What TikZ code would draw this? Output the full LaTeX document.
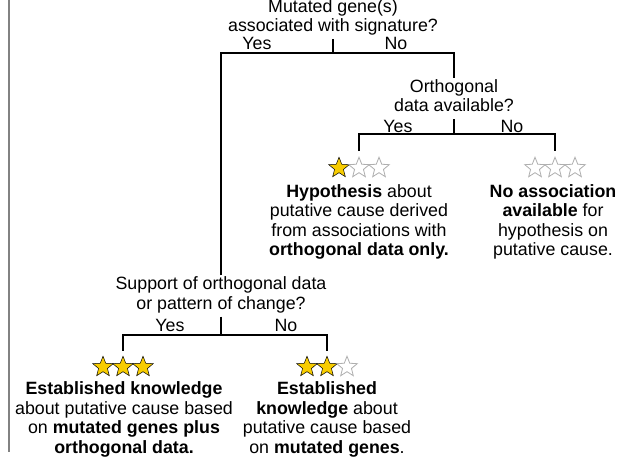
\documentclass[tikz,border=0pt]{standalone}
\usepackage{fontspec}
\setmainfont{Liberation Sans}
\usetikzlibrary{shapes.geometric}
\definecolor{gold}{RGB}{247,204,0}
\definecolor{stargray}{RGB}{175,175,175}
\definecolor{bordergray}{RGB}{130,130,130}
\begin{document}
\begin{tikzpicture}[x=1pt,y=-1pt,
  txt/.style={font=\fontsize{17.8}{19.5}\selectfont, align=center, inner sep=1.3pt,
    execute at begin node=\strut, execute at end node=\strut},
  lbl/.style={font=\fontsize{17.8}{19.5}\selectfont, inner sep=0pt},
  conn/.style={line width=1.7pt, black},
  drop/.style={conn, shorten <=5pt, shorten >=5pt},
  basestar/.style={star, star points=5, star point ratio=2.3, minimum size=21.5pt, inner sep=0pt},
  fullstar/.style={basestar, draw=black, line width=0.5pt, fill=gold},
  emptystar/.style={basestar, draw=stargray, line width=0.8pt, fill=white}]
\useasboundingbox (0,0) rectangle (636,459);
\fill[white] (0,0) rectangle (636,459);
% left border line
\draw[bordergray, line width=1.2pt] (9,-2) -- (9,452);

% root question
\node[txt] (q1) at (333,18.5) {Mutated gene(s)\\associated with signature?};
\coordinate (j1) at (333,53);
\node[lbl] (y1) at (257,43) {Yes};
\node[lbl] (n1) at (396,43) {No};

% second question
\node[txt] (q2) at (454,98.5) {Orthogonal\\data available?};
\coordinate (j2) at (454,134);
\node[lbl] (y2) at (398,126) {Yes};
\node[lbl] (n2) at (512,126) {No};

% third question
\node[txt] (q3) at (221,296) {Support of orthogonal data\\or pattern of change?};
\coordinate (j3) at (221,335);
\node[lbl] (y3) at (170,325) {Yes};
\node[lbl] (n3) at (286,325) {No};

% stars
\node[fullstar]  (s1a) at (339,168) {};
\node[emptystar] (s1b) at (359,168) {};
\node[emptystar] (s1c) at (379,168) {};
\node[emptystar] (s2a) at (535,168) {};
\node[emptystar] (s2b) at (555,168) {};
\node[emptystar] (s2c) at (575,168) {};
\node[fullstar]  (s3a) at (103,367) {};
\node[fullstar]  (s3b) at (123,367) {};
\node[fullstar]  (s3c) at (143,367) {};
\node[fullstar]  (s4a) at (307,367) {};
\node[fullstar]  (s4b) at (327,367) {};
\node[emptystar] (s4c) at (347,367) {};

% outcomes
\node[txt] (o1) at (359,222.8) {\textbf{Hypothesis} about\\putative cause derived\\from associations with\\\textbf{orthogonal data only.}};
\node[txt] (o2) at (553,222.8) {\textbf{No association}\\\textbf{available} for\\hypothesis on\\putative cause.};
\node[txt] (o3) at (124,420.3) {\textbf{Established knowledge}\\about putative cause based\\on \textbf{mutated genes plus}\\\textbf{orthogonal data.}};
\node[txt] (o4) at (327,420.3) {\textbf{Established}\\\textbf{knowledge} about\\putative cause based\\on \textbf{mutated genes}.};

% connectors
\draw[conn] (q1.south) -- (j1);
\draw[conn] (q3.north) |- (j1) -| (q2.north);
\draw[conn] (q2.south) -- (j2);
\draw[drop] (s1b.north) |- (j2) -| (s2b.north);
\draw[conn] (q3.south) -- (j3);
\draw[drop] (s3b.north) |- (j3) -| (s4b.north);
\end{tikzpicture}
\end{document}
